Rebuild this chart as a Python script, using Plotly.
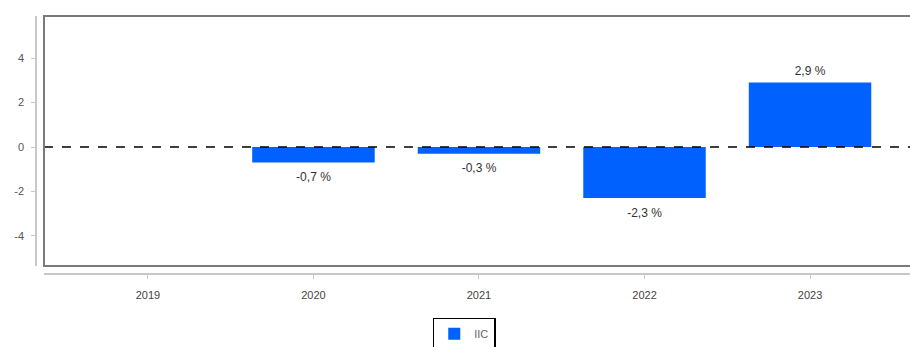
import plotly.graph_objects as go

years = ["2019", "2020", "2021", "2022", "2023"]
values = [None, -0.7, -0.3, -2.3, 2.9]
labels = ["", "-0,7 %", "-0,3 %", "-2,3 %", "2,9 %"]
y_ticks = [-4, -2, 0, 2, 4]
y_tick_text = ["-4", "-2", "0", "2", "4"]

fig = go.Figure()
fig.add_trace(go.Bar(
    x=years, y=values, name="IIC",
    marker=dict(color="#0061fe", line=dict(width=0)),
    width=0.74,
))
# value labels just outside each bar end (invisible markers give the gap)
fig.add_trace(go.Scatter(
    x=years, y=values, text=labels, mode="markers+text", showlegend=False,
    marker=dict(color="rgba(0,0,0,0)", line=dict(width=0),
                size=[6 if (v or 0) > 0 else 14 for v in values]),
    textposition=["top center" if (v or 0) > 0 else "bottom center" for v in values],
    textfont=dict(color="#333333", size=12, family="Liberation Sans"),
    cliponaxis=False, hoverinfo="skip",
))

# dashed zero line
fig.add_shape(type="line", xref="x domain", yref="y", x0=0, x1=1, y0=0, y1=0,
              line=dict(color="black", width=1.5, dash="dash"))
# plot frame (right edge runs off the page)
fig.add_shape(type="rect", xref="x domain", yref="y domain", x0=0, x1=1.02, y0=0, y1=1,
              line=dict(color="#7a7a7a", width=2))

fig.update_layout(
    width=910, height=347,
    margin=dict(l=36, r=0, t=16, b=73, autoexpand=False),
    plot_bgcolor="white", paper_bgcolor="white",
    font=dict(family="Liberation Sans", size=11, color="#555555"),
    xaxis=dict(
        type="category", range=[-0.628, 4.604], domain=[0.00915, 1],
        anchor="free", position=0,
        showline=True, linecolor="#c8c8c8", linewidth=1.5,
        ticks="outside", ticklen=4, tickcolor="#c8c8c8",
        ticklabelstandoff=7,
        showgrid=False, zeroline=False,
        tickfont=dict(color="#444444", size=11),
    ),
    yaxis=dict(
        range=[-5.36, 5.9], domain=[0.031, 1],
        anchor="free", position=0,
        tickvals=y_ticks, ticktext=y_tick_text,
        showline=True, linecolor="#c8c8c8", linewidth=1.5,
        ticks="outside", ticklen=4, tickcolor="#c8c8c8",
        ticklabelstandoff=5,
        showgrid=False, zeroline=False,
        tickfont=dict(color="#555555", size=11),
    ),
    showlegend=True,
    legend=dict(
        orientation="h", x=0.49, xanchor="center", y=-0.17, yanchor="top",
        bordercolor="black", borderwidth=1.5, bgcolor="white",
        font=dict(color="#666666", size=11),
    ),
)

# drop the default body margin so the figure sits flush in the window
fig.write_html("out.html", config={"displayModeBar": False},
               post_script="document.body.style.margin='0';")
